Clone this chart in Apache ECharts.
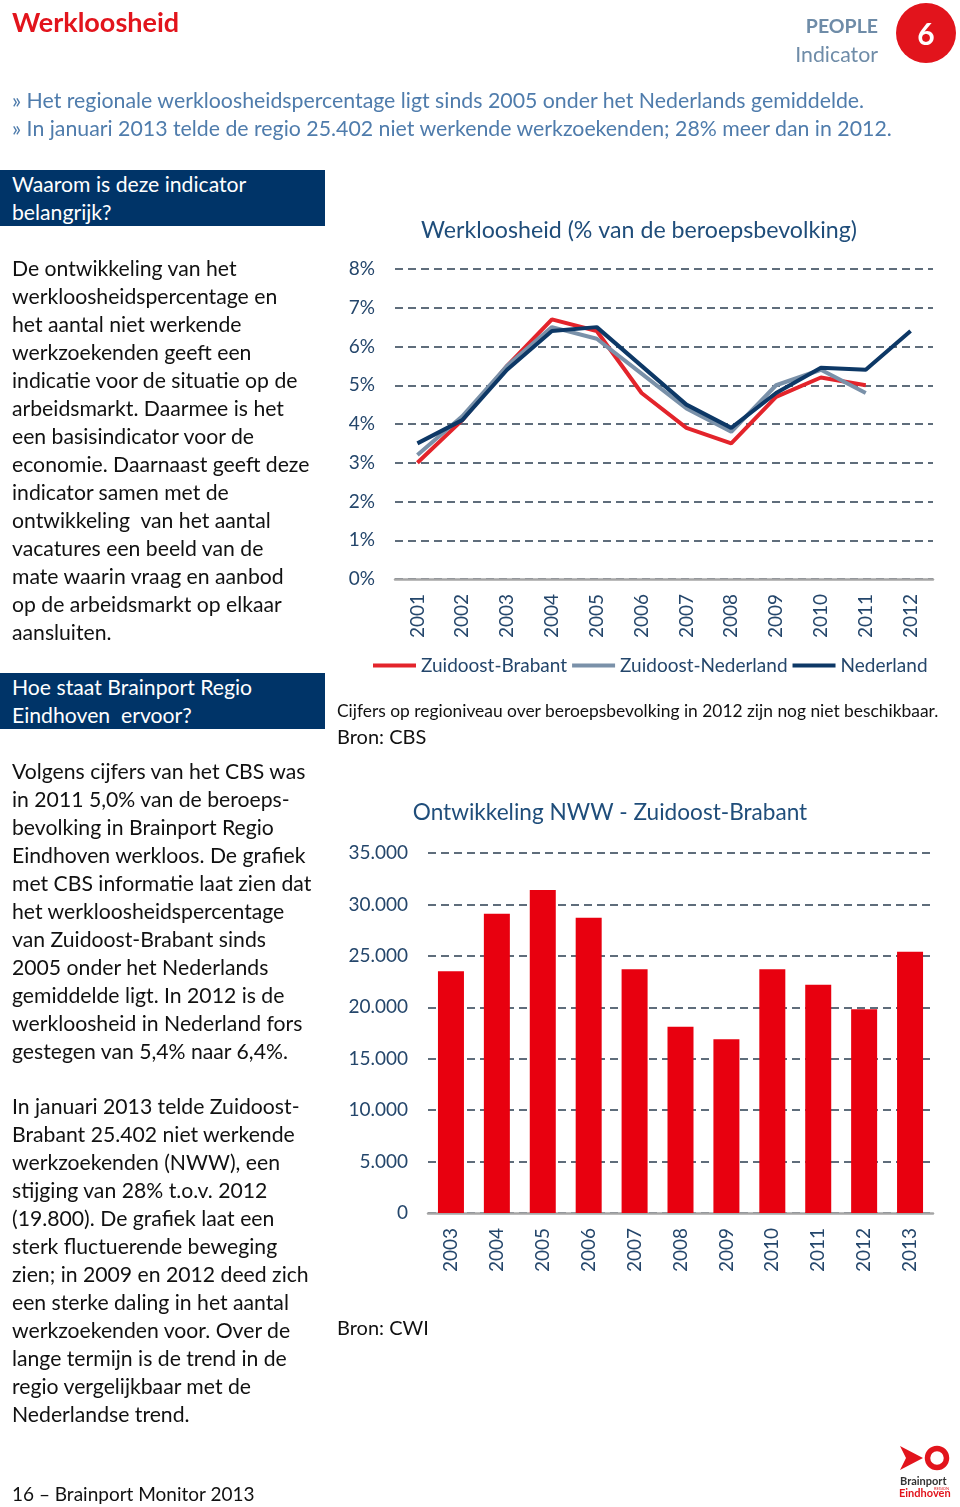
<!DOCTYPE html>
<html><head><meta charset="utf-8">
<script src="https://cdn.jsdelivr.net/npm/echarts@6/dist/echarts.min.js"></script>
<style>
html,body{margin:0;padding:0;background:#fff;}
body{width:960px;height:1507px;position:relative;overflow:hidden;font-family:Lato,"Noto Sans",sans-serif;}
#chart{position:absolute;left:0;top:0;width:960px;height:1507px;}
.t{position:absolute;white-space:nowrap;}
.para{position:absolute;left:12px;font-size:21.2px;line-height:28px;color:#111;white-space:nowrap;}
.box{position:absolute;left:0;width:313px;height:56px;background:#003468;color:#fff;font-size:21.2px;line-height:28px;padding-left:12px;white-space:nowrap;}
</style></head>
<body>
<div id="chart"></div>

<div class="t" style="left:12px;top:4px;font-size:27px;font-weight:bold;color:#e2141c;line-height:36px;">Werkloosheid</div>
<div class="t" style="right:82px;top:12px;font-size:19.5px;font-weight:bold;color:#6f8ca8;line-height:28px;text-align:right;">PEOPLE</div>
<div class="t" style="right:82px;top:40px;font-size:21.3px;color:#6f8ca8;line-height:28px;text-align:right;">Indicator</div>
<div class="t" style="left:896px;top:3px;width:60px;height:60px;border-radius:30px;background:#e2141c;color:#fff;font-weight:bold;font-size:30px;line-height:60px;text-align:center;">6</div>

<div class="t" style="left:12px;top:86px;font-size:21.3px;line-height:28px;color:#4f7cac;">» Het regionale werkloosheidspercentage ligt sinds 2005 onder het Nederlands gemiddelde.</div>
<div class="t" style="left:12px;top:114px;font-size:21.3px;line-height:28px;color:#4f7cac;">» In januari 2013 telde de regio 25.402 niet werkende werkzoekenden; 28% meer dan in 2012.</div>

<div class="box" style="top:170px;">Waarom is deze indicator<br>belangrijk?</div>
<div class="para" style="top:254px;">De ontwikkeling van het<br>werkloosheidspercentage en<br>het aantal niet werkende<br>werkzoekenden geeft een<br>indicatie voor de situatie op de<br>arbeidsmarkt. Daarmee is het<br>een basisindicator voor de<br>economie. Daarnaast geeft deze<br>indicator samen met de<br>ontwikkeling&nbsp; van het aantal<br>vacatures een beeld van de<br>mate waarin vraag en aanbod<br>op de arbeidsmarkt op elkaar<br>aansluiten.</div>

<div class="box" style="top:673px;">Hoe staat Brainport Regio<br>Eindhoven&nbsp; ervoor?</div>
<div class="para" style="top:757px;">Volgens cijfers van het CBS was<br>in 2011 5,0% van de beroeps-<br>bevolking in Brainport Regio<br>Eindhoven werkloos. De grafiek<br>met CBS informatie laat zien dat<br>het werkloosheidspercentage<br>van Zuidoost-Brabant sinds<br>2005 onder het Nederlands<br>gemiddelde ligt. In 2012 is de<br>werkloosheid in Nederland fors<br>gestegen van 5,4% naar 6,4%.</div>
<div class="para" style="top:1092px;">In januari 2013 telde Zuidoost-<br>Brabant 25.402 niet werkende<br>werkzoekenden (NWW), een<br>stijging van 28% t.o.v. 2012<br>(19.800). De grafiek laat een<br>sterk fluctuerende beweging<br>zien; in 2009 en 2012 deed zich<br>een sterke daling in het aantal<br>werkzoekenden voor. Over de<br>lange termijn is de trend in de<br>regio vergelijkbaar met de<br>Nederlandse trend.</div>

<div class="t" style="left:337px;top:700px;font-size:17.4px;line-height:22px;color:#111;">Cijfers op regioniveau over beroepsbevolking in 2012 zijn nog niet beschikbaar.</div>
<div class="t" style="left:337px;top:722px;font-size:20px;line-height:28px;color:#111;">Bron: CBS</div>
<div class="t" style="left:337px;top:1313px;font-size:20px;line-height:28px;color:#111;">Bron: CWI</div>
<div class="t" style="left:12px;top:1480px;font-size:19px;line-height:28px;color:#111;">16 – Brainport Monitor 2013</div>

<svg class="t" style="left:896px;top:1444px;" width="60" height="56" viewBox="0 0 60 56">
  <polygon points="4,2 27,14 4,26 10,14" fill="#e2141c"/>
  <circle cx="41" cy="14" r="9.5" fill="none" stroke="#e2141c" stroke-width="5.5"/>
  <text x="4" y="41" font-family="Lato" font-weight="bold" font-size="11" fill="#333">Brainport</text>
  <text x="38" y="46" font-family="Lato" font-size="4" fill="#e2141c">REGION</text>
  <text x="3" y="53" font-family="Lato" font-weight="bold" font-size="11" fill="#e2141c">Eindhoven</text>
</svg>

<script>
// ---- data ----
const lineYears = ['2001','2002','2003','2004','2005','2006','2007','2008','2009','2010','2011','2012'];
const zuidoostBrabant = [3.0, 4.1, 5.5, 6.7, 6.4, 4.8, 3.9, 3.5, 4.7, 5.2, 5.0, null];
const zuidoostNederland = [3.2, 4.2, 5.5, 6.5, 6.2, 5.3, 4.4, 3.8, 5.0, 5.4, 4.8, null];
const nederland = [3.5, 4.1, 5.4, 6.4, 6.5, 5.5, 4.5, 3.9, 4.8, 5.45, 5.4, 6.4];

const nwwYears = ['2003','2004','2005','2006','2007','2008','2009','2010','2011','2012','2013'];
const nwwValues = [23500, 29100, 31400, 28700, 23700, 18100, 16900, 23700, 22200, 19800, 25400];

const FONT = 'Lato';
const LABEL = '#24466b';
const GRID = '#2b3e50';

const chart = echarts.init(document.getElementById('chart'), null, {renderer:'canvas'});
const dashed = {show:true, lineStyle:{type:[8,5], color:GRID, width:1.5}};
chart.setOption({
  animation:false,
  textStyle:{fontFamily:FONT},
  graphic:[
    {type:'text', x:639, y:231, style:{text:'Werkloosheid (% van de beroepsbevolking)', fontFamily:FONT, fontSize:23.2, fill:'#1f4d7a', align:'center', verticalAlign:'middle'}},
    {type:'text', x:610, y:813, style:{text:'Ontwikkeling NWW - Zuidoost-Brabant', fontFamily:FONT, fontSize:22.6, fill:'#1f4d7a', align:'center', verticalAlign:'middle'}}
  ],
  legend:{
    left:373, top:656, padding:0, icon:'rect', itemWidth:43, itemHeight:4, itemGap:5,
    textStyle:{fontFamily:FONT, fontSize:19, color:LABEL},
    data:['Zuidoost-Brabant','Zuidoost-Nederland','Nederland']
  },
  grid:[
    {left:395, right:27, top:269, height:310},
    {left:428, right:27, top:853, height:360}
  ],
  xAxis:[
    {type:'category', gridIndex:0, data:lineYears, boundaryGap:true,
     axisLine:{lineStyle:{color:'#a6a6a6', width:2.5}}, axisTick:{show:false},
     axisLabel:{rotate:90, margin:15, fontFamily:FONT, fontSize:19, color:LABEL}},
    {type:'category', gridIndex:1, data:nwwYears, boundaryGap:true,
     axisLine:{lineStyle:{color:'#a6a6a6', width:2.5}}, axisTick:{show:false},
     axisLabel:{rotate:90, margin:15, fontFamily:FONT, fontSize:19, color:LABEL}}
  ],
  yAxis:[
    {type:'value', gridIndex:0, min:0, max:8, interval:1,
     axisLine:{show:false}, axisTick:{show:false}, splitLine:dashed,
     axisLabel:{formatter:'{value}%', margin:20, fontFamily:FONT, fontSize:19, color:LABEL}},
    {type:'value', gridIndex:1, min:0, max:35000, interval:5000,
     axisLine:{show:false}, axisTick:{show:false}, splitLine:dashed,
     axisLabel:{formatter:v => v === 0 ? '0' : (v/1000).toFixed(0) + '.000', margin:20, fontFamily:FONT, fontSize:19, color:LABEL}}
  ],
  series:[
    {name:'Zuidoost-Brabant', type:'line', xAxisIndex:0, yAxisIndex:0, data:zuidoostBrabant, showSymbol:false, symbol:'none',
     lineStyle:{color:'#e3242b', width:4}, itemStyle:{color:'#e3242b'}},
    {name:'Zuidoost-Nederland', type:'line', xAxisIndex:0, yAxisIndex:0, data:zuidoostNederland, showSymbol:false, symbol:'none',
     lineStyle:{color:'#7a91a9', width:4}, itemStyle:{color:'#7a91a9'}},
    {name:'Nederland', type:'line', xAxisIndex:0, yAxisIndex:0, data:nederland, showSymbol:false, symbol:'none',
     lineStyle:{color:'#0d3866', width:4}, itemStyle:{color:'#0d3866'}},
    {name:'NWW', type:'bar', xAxisIndex:1, yAxisIndex:1, data:nwwValues, barWidth:26,
     itemStyle:{color:'#e8000f'}}
  ]
});
</script>
</body></html>
